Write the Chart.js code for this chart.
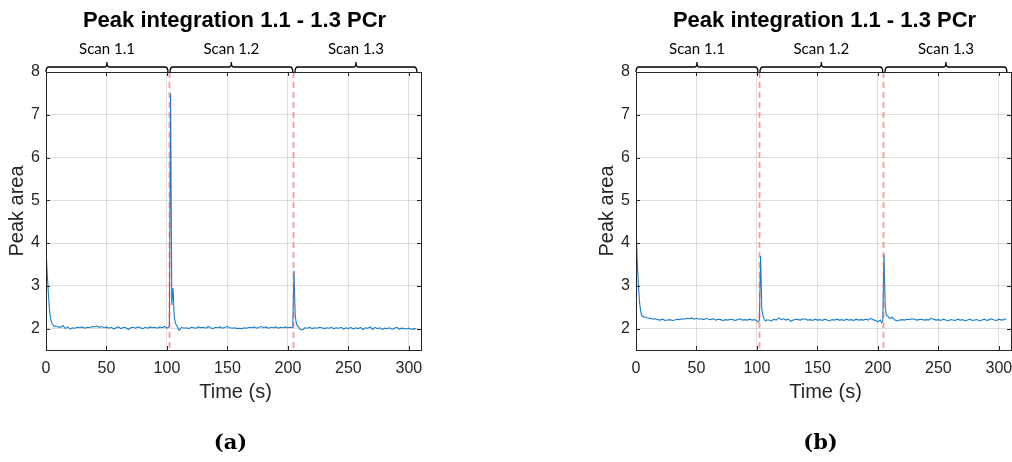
<!DOCTYPE html>
<html>
<head>
<meta charset="utf-8">
<script src="https://cdn.jsdelivr.net/npm/chart.js@4.4.0/dist/chart.umd.min.js"></script>
<style>
  html, body { margin: 0; padding: 0; background: #fff; overflow: hidden; }
  body { width: 1012px; height: 462px; position: relative; }
  canvas { position: absolute; top: 0; }
  #chartA { left: 0; }
  #chartB { left: 590px; }
</style>
</head>
<body>
<canvas id="chartA" width="470" height="462"></canvas>
<canvas id="chartB" width="470" height="462"></canvas>
<script>
// time axis (s), finer around the injections
const times = [
  0, 1, 2, 3, 4, 5, 6, 7, 8,
  10, 12, 14, 16, 18, 20, 22, 24, 26, 28,
  30, 32, 34, 36, 38, 40, 42, 44, 46, 48,
  50, 52, 54, 56, 58, 60, 62, 64, 66, 68,
  70, 72, 74, 76, 78, 80, 82, 84, 86, 88,
  90, 92, 94, 96, 98, 100,
  101, 102, 103, 104, 105, 106, 107, 108,
  110, 112, 114, 116, 118, 120, 122, 124, 126, 128,
  130, 132, 134, 136, 138, 140, 142, 144, 146, 148,
  150, 152, 154, 156, 158, 160, 162, 164, 166, 168,
  170, 172, 174, 176, 178, 180, 182, 184, 186, 188,
  190, 192, 194, 196, 198, 200, 202,
  203, 204, 205, 206, 207, 208, 209, 210,
  212, 214, 216, 218, 220, 222, 224, 226, 228, 230,
  232, 234, 236, 238, 240, 242, 244, 246, 248, 250,
  252, 254, 256, 258, 260, 262, 264, 266, 268, 270,
  272, 274, 276, 278, 280, 282, 284, 286, 288, 290,
  292, 294, 296, 298, 300, 302, 304, 306
];

// panel (a)
const peakA = [
  3.85, 3.3, 2.8, 2.4, 2.2, 2.12, 2.08, 2.05, 2.06,
  2.04, 2.03, 2.07, 2.0, 2.04, 1.99, 2.02, 2.01, 2.03, 2.02,
  2.04, 2.01, 2.03, 2.02, 2.05, 2.04, 2.06, 2.03, 2.05, 2.02,
  2.04, 2.01, 2.03, 1.99, 2.02, 2.04, 2.0, 2.03, 2.02, 1.98,
  2.02, 2.03, 2.01, 2.04, 2.02, 2.0, 2.03, 2.01, 2.04, 2.02,
  2.03, 2.01, 2.04, 2.02, 2.05, 2.01,
  2.03, 2.05, 7.5, 2.55, 2.95, 2.3, 2.12, 2.08,
  1.96, 2.03, 2.01, 2.02, 2.0, 2.03, 2.02, 2.01, 2.04, 2.02,
  2.03, 2.01, 2.05, 2.02, 2.0, 2.03, 2.02, 2.04, 2.01, 2.03,
  2.05, 2.02, 2.01, 2.02, 2.0, 2.01, 2.0, 2.02, 2.01, 2.03,
  2.02, 2.04, 2.01, 2.03, 2.05, 2.02, 2.04, 2.01, 2.03, 2.02,
  2.04, 2.01, 2.03, 2.02, 2.04, 2.02, 2.03,
  2.02, 2.04, 3.35, 2.3, 2.12, 2.06, 2.04, 1.98,
  1.97, 2.02, 2.01, 2.03, 2.0, 2.02, 2.01, 2.03, 2.02, 2.0,
  2.02, 2.01, 2.03, 2.0, 2.02, 2.01, 2.03, 1.99, 2.02, 2.0,
  2.03, 1.99, 2.02, 2.0, 2.03, 1.98, 2.02, 2.01, 2.04, 1.98,
  2.03, 2.0, 2.02, 1.98, 2.01, 2.0, 2.02, 1.98, 2.01, 2.03,
  1.99, 2.01, 2.0, 1.99, 2.01, 1.98, 2.0, 1.99
];

// panel (b)
const peakB = [
  4.45, 3.6, 3.0, 2.6, 2.38, 2.3, 2.28, 2.27, 2.26,
  2.25, 2.24, 2.22, 2.23, 2.21, 2.2, 2.22, 2.19, 2.2, 2.21,
  2.19, 2.2, 2.22, 2.21, 2.23, 2.22, 2.24, 2.23, 2.25, 2.22,
  2.24, 2.22, 2.23, 2.21, 2.24, 2.22, 2.21, 2.23, 2.2, 2.22,
  2.21, 2.19, 2.21, 2.2, 2.22, 2.21, 2.19, 2.21, 2.23, 2.2,
  2.21, 2.2, 2.22, 2.2, 2.21, 2.18,
  2.16, 2.2, 3.7, 2.45, 2.3, 2.22, 2.18, 2.2,
  2.2, 2.18, 2.22, 2.2, 2.25, 2.21, 2.23, 2.2, 2.22, 2.17,
  2.2, 2.22, 2.21, 2.2, 2.23, 2.22, 2.2, 2.21, 2.19, 2.22,
  2.2, 2.21, 2.19, 2.22, 2.2, 2.18, 2.21, 2.2, 2.22, 2.2,
  2.21, 2.19, 2.22, 2.2, 2.21, 2.19, 2.22, 2.2, 2.21, 2.2,
  2.22, 2.2, 2.24, 2.21, 2.19, 2.16, 2.2,
  2.14, 2.18, 3.74, 2.5, 2.3, 2.3, 2.26, 2.24,
  2.26, 2.2, 2.18, 2.2, 2.21, 2.2, 2.22, 2.21, 2.23, 2.22,
  2.2, 2.21, 2.22, 2.2, 2.21, 2.2, 2.24, 2.22, 2.2, 2.21,
  2.19, 2.22, 2.2, 2.18, 2.21, 2.2, 2.19, 2.22, 2.2, 2.21,
  2.18, 2.2, 2.22, 2.19, 2.2, 2.21, 2.18, 2.2, 2.22, 2.19,
  2.21, 2.23, 2.2, 2.19, 2.22, 2.2, 2.21, 2.23
];

const xTicks = [0, 50, 100, 150, 200, 250, 300];
const yTicks = [2, 3, 4, 5, 6, 7, 8];

const scanLabels = ['Scan 1.1', 'Scan 1.2', 'Scan 1.3'];
const scanFrom = [0, 102.5, 205.8];
const scanTo = [100.8, 204, 306.6];
const scanMarks = [102, 204.4];   // red dashed lines

const titleText = 'Peak integration 1.1 - 1.3 PCr';
const xTitle = 'Time (s)';
const yTitle = 'Peak area';

const SANS = '"Liberation Sans", Arial, sans-serif';
const AXIS = '#262626';

// everything around the axes: box, inner ticks, scan braces, texts
const decorPlugin = {
  id: 'decor',
  afterDatasetsDraw(chart) {
    const ctx = chart.ctx;
    const a = chart.chartArea;
    const xs = chart.scales.x, ys = chart.scales.y;
    ctx.save();

    // dashed scan limits
    ctx.strokeStyle = 'rgba(255, 70, 70, 0.55)';
    ctx.lineWidth = 1.8;
    ctx.setLineDash([6, 4]);
    scanMarks.forEach(m => {
      const px = Math.round(xs.getPixelForValue(m)) + 0.5;
      ctx.beginPath();
      ctx.moveTo(px, a.top);
      ctx.lineTo(px, a.bottom);
      ctx.stroke();
    });
    ctx.setLineDash([]);

    // box
    ctx.strokeStyle = AXIS;
    ctx.lineWidth = 1;
    ctx.strokeRect(a.left + 0.5, a.top + 0.5, a.right - a.left, a.bottom - a.top);

    // inward ticks
    ctx.beginPath();
    xTicks.forEach(v => {
      const px = Math.round(xs.getPixelForValue(v)) + 0.5;
      ctx.moveTo(px, a.bottom); ctx.lineTo(px, a.bottom - 4);
      ctx.moveTo(px, a.top); ctx.lineTo(px, a.top + 4);
    });
    yTicks.forEach(v => {
      const py = Math.round(ys.getPixelForValue(v)) + 0.5;
      ctx.moveTo(a.left, py); ctx.lineTo(a.left + 4, py);
      ctx.moveTo(a.right, py); ctx.lineTo(a.right - 4, py);
    });
    ctx.stroke();

    // scan braces + labels
    ctx.strokeStyle = '#000';
    ctx.lineWidth = 1.3;
    ctx.fillStyle = '#000';
    ctx.font = '15px Lato, "Open Sans", sans-serif';
    ctx.textAlign = 'center';
    ctx.textBaseline = 'middle';
    const yb = a.top - 5;
    scanLabels.forEach((lab, i) => {
      const x1 = xs.getPixelForValue(scanFrom[i]);
      const x2 = xs.getPixelForValue(scanTo[i]);
      const xm = (x1 + x2) / 2;
      ctx.beginPath();
      ctx.moveTo(x1, a.top);
      ctx.quadraticCurveTo(x1, yb, x1 + 3, yb);
      ctx.lineTo(xm - 2, yb);
      ctx.quadraticCurveTo(xm, yb, xm, yb - 5);
      ctx.quadraticCurveTo(xm, yb, xm + 2, yb);
      ctx.lineTo(x2 - 3, yb);
      ctx.quadraticCurveTo(x2, yb, x2, a.top);
      ctx.stroke();
      ctx.fillText(lab, xm, 49);
    });

    const cx = (a.left + a.right) / 2;
    // title
    ctx.fillStyle = '#000';
    ctx.font = 'bold 22px ' + SANS;
    ctx.fillText(titleText, cx + 1, 21);

    // axis titles
    ctx.fillStyle = AXIS;
    ctx.font = '20px ' + SANS;
    ctx.fillText(xTitle, cx + 2, 392);
    ctx.save();
    ctx.translate(17, (a.top + a.bottom) / 2);
    ctx.rotate(-Math.PI / 2);
    ctx.fillText(yTitle, 0, 0);
    ctx.restore();

    // caption
    ctx.fillStyle = '#000';
    ctx.font = 'bold 21px "DejaVu Serif", serif';
    ctx.fillText(chart.options.plugins.decor.caption, cx - 3, 444);

    ctx.restore();
  }
};

function makeChart(id, values, caption) {
  const pts = times.map((t, i) => ({ x: t, y: values[i] }));
  return new Chart(document.getElementById(id), {
    type: 'line',
    data: {
      datasets: [{
        data: pts,
        borderColor: 'rgb(25, 125, 200)',
        borderWidth: 1.1,
        pointRadius: 0,
        tension: 0,
        fill: false
      }]
    },
    options: {
      responsive: false,
      animation: false,
      devicePixelRatio: 1,
      layout: { padding: { top: 72, right: 49, bottom: 62, left: 0 } },
      plugins: {
        legend: { display: false },
        tooltip: { enabled: false },
        decor: { caption: caption }
      },
      scales: {
        x: {
          type: 'linear',
          min: 0,
          max: 310,
          afterBuildTicks: s => { s.ticks = xTicks.map(v => ({ value: v })); },
          afterFit: s => { s.height = 50; },
          grid: { color: 'rgba(38,38,38,0.15)', drawTicks: false },
          border: { display: false },
          ticks: { padding: 9, color: AXIS, font: { family: SANS, size: 16 }, maxRotation: 0 }
        },
        y: {
          min: 1.5,
          max: 8,
          afterBuildTicks: s => { s.ticks = yTicks.map(v => ({ value: v })); },
          afterFit: s => { s.width = 46; },
          grid: { color: 'rgba(38,38,38,0.15)', drawTicks: false },
          border: { display: false },
          ticks: { padding: 6, color: AXIS, font: { family: SANS, size: 16 } }
        }
      }
    },
    plugins: [decorPlugin]
  });
}

makeChart('chartA', peakA, '(a)');
makeChart('chartB', peakB, '(b)');
</script>
</body>
</html>
